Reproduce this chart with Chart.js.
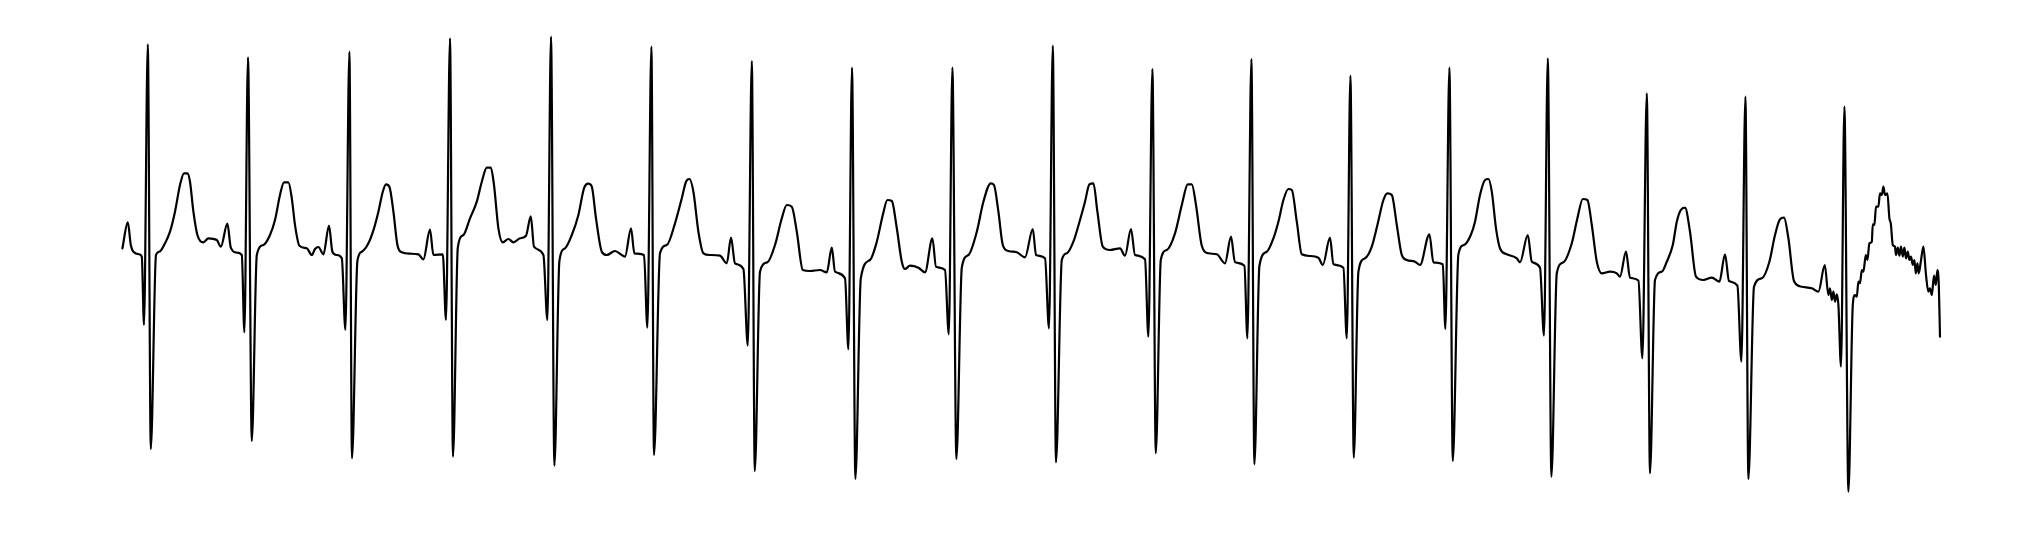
<!DOCTYPE html>
<html>
<head>
<meta charset="utf-8">
<title>ECG strip</title>
<script src="https://cdn.jsdelivr.net/npm/chart.js@4/dist/chart.umd.min.js"></script>
<style>
  html, body { margin: 0; padding: 0; background: #ffffff; }
  #wrap { position: relative; width: 2035px; height: 538px; }
</style>
</head>
<body>
<div id="wrap"><canvas id="ecg"></canvas></div>
<script>
// Time of each sampled vertex (ms)
const timeMs = [
  2,29,44,57,87,99,110,129,144,170,
  187,215,240,265,290,310,327,340,357,377,
  407,432,474,494,527,544,574,599,612,630,
  649,674,707,740,765,790,810,832,849,865,
  887,924,949,965,982,1007,1035,1052,1074,1099,
  1117,1137,1150,1177,1199,1232,1260,1282,1304,1320,
  1337,1357,1377,1399,1440,1482,1507,1540,1557,1604,
  1620,1640,1655,1679,1707,1740,1774,1799,1824,1844,
  1860,1882,1904,1932,1957,1990,2020,2044,2060,2107,
  2127,2145,2162,2187,2215,2249,2282,2310,2332,2349,
  2370,2399,2424,2465,2499,2515,2545,2562,2610,2627,
  2647,2660,2690,2724,2765,2799,2820,2837,2857,2882,
  2907,2940,2990,3024,3045,3065,3107,3129,3149,3164,
  3190,3227,3265,3299,3324,3349,3374,3404,3440,3490,
  3524,3549,3565,3615,3632,3650,3667,3694,3740,3774,
  3804,3827,3849,3874,3899,3915,3940,3982,4015,4052,
  4070,4115,4134,4152,4172,4199,4232,4274,4307,4344,
  4360,4382,4404,4432,4474,4515,4554,4570,4615,4635,
  4654,4670,4699,4724,4757,4790,4815,4837,4857,4877,
  4904,4940,4990,5015,5045,5065,5115,5132,5152,5169,
  5194,5224,5265,5299,5329,5349,5370,5399,5432,5474,
  5515,5545,5565,5612,5627,5647,5662,5687,5724,5757,
  5782,5807,5832,5849,5874,5899,5940,5982,6004,6040,
  6057,6107,6124,6142,6159,6182,6215,6249,6277,6307,
  6327,6349,6374,6399,6424,6465,6490,6537,6557,6604,
  6617,6637,6654,6682,6710,6744,6765,6790,6815,6832,
  6849,6870,6890,6924,6974,6990,7029,7049,7090,7110,
  7129,7147,7174,7207,7249,7277,7304,7327,7349,7374,
  7399,7440,7474,7490,7520,7540,7582,7602,7624,7640,
  7665,7699,7724,7754,7774,7794,7815,7840,7870,7907,
  7949,7987,8015,8035,8077,8097,8117,8132,8160,8199,
  8237,8265,8290,8310,8332,8360,8399,8449,8482,8514,
  8532,8540,8549,8557,8565,8574,8582,8595,8612,8632,
  8654,8665,8674,8682,8690,8699,8707,8719,8727,8737,
  8749,8754,8762,8770,8782,8790,8799,8807,8815,8827,
  8837,8844,8854,8865,8870,8879,8887,8895,8904,8912,
  8920,8929,8937,8945,8954,8962,8969,8977,8984,8994,
  9007,9020,9032,9040,9049,9060,9069,9077,9084,9090
];

// Amplitude at each vertex (microvolts)
const amplitudeUv = [
  67,327,100,33,7,-17,-700,2107,-1940,0,
  33,117,233,433,700,817,817,733,433,200,
  127,167,150,83,313,73,23,0,-773,1977,
  -1860,0,100,200,350,600,727,727,567,300,
  93,67,0,60,80,7,293,33,0,-33,
  -750,2033,-2033,-60,33,117,267,433,633,707,
  683,433,100,27,13,7,-43,253,0,7,
  -650,2167,-2017,73,200,367,533,733,873,873,
  700,267,127,160,127,167,193,387,83,0,
  -650,2183,-2107,-60,67,200,400,667,713,683,
  367,33,0,40,0,-17,267,17,0,-727,
  2083,-2000,17,100,317,567,733,760,633,233,
  17,0,-7,-83,173,-83,-140,-907,1940,-2160,
  -167,-73,100,367,500,483,233,-150,-160,-150,
  -173,73,-167,-233,-943,1873,-2240,-233,-50,133,
  400,550,540,267,-67,-140,-107,-127,-173,167,
  -117,-150,-793,1873,-2040,-127,0,233,533,717,
  700,433,100,40,27,-23,260,0,-33,-733,
  2093,-2073,-50,17,133,350,533,707,717,433,
  83,50,67,-7,260,0,-43,-817,1860,-1983,
  -50,50,217,500,707,707,500,93,17,7,
  -83,183,-73,-107,-833,1960,-2093,-110,33,167,
  333,550,660,650,333,7,-10,-27,-100,173,
  -93,-127,-833,1793,-2027,-167,-33,83,300,550,
  617,600,300,0,-50,-67,-100,207,-73,-93,
  -740,1873,-2060,7,100,200,333,600,750,760,
  633,267,67,7,-33,-73,200,-67,-127,-807,
  1967,-2217,-183,-73,117,367,560,550,300,-67,
  -183,-167,-183,-217,33,-227,-255,-1033,1617,-2183,
  -250,-167,-67,100,333,450,473,233,-217,-250,
  -227,-267,7,-260,-307,-1067,1583,-2240,-317,-233,
  -67,200,357,373,167,-260,-317,-333,-367,-100,
  -400,-333,-450,-367,-467,-393,-500,-1117,1483,-2367,
  -500,-400,-417,-267,-283,-150,-167,0,-50,117,
  133,307,300,483,483,617,600,683,600,617,
  367,317,100,83,0,73,-7,83,-17,73,
  -33,33,-50,-17,-100,-50,-183,-83,-183,-67,
  83,-200,-367,-333,-400,-207,-300,-150,-300,-817
];

// Visible window of the strip
const timeRangeMs = [-610, 9565];
const amplitudeRangeUv = [-2830, 2550];

const points = timeMs.map((t, i) => ({ x: t, y: amplitudeUv[i] }));

new Chart(document.getElementById('ecg'), {
  type: 'line',
  data: {
    datasets: [{
      data: points,
      borderColor: '#000000',
      borderWidth: 2.2,
      pointRadius: 0,
      cubicInterpolationMode: 'monotone',
      fill: false,
      borderJoinStyle: 'round',
      borderCapStyle: 'round'
    }]
  },
  options: {
    responsive: true,
    maintainAspectRatio: false,
    animation: false,
    layout: { padding: 0 },
    plugins: { legend: { display: false }, tooltip: { enabled: false } },
    scales: {
      x: { type: 'linear', display: false, min: timeRangeMs[0], max: timeRangeMs[1] },
      y: { type: 'linear', display: false, min: amplitudeRangeUv[0], max: amplitudeRangeUv[1] }
    }
  }
});
</script>
</body>
</html>
